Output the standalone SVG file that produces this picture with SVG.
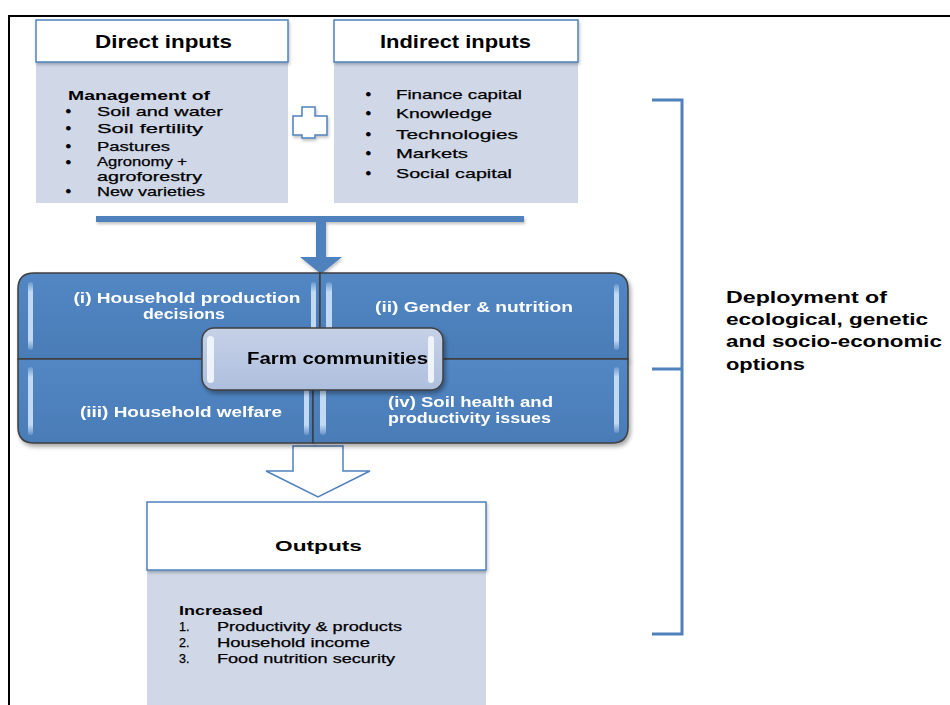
<svg xmlns="http://www.w3.org/2000/svg" width="950" height="705" viewBox="0 0 950 705">
  <defs>
    <style>
      .hdr { fill: #ffffff; stroke: #4F81BD; stroke-width: 1.5; }
      .body { fill: #D0D8E8; }
      .t { font-family: "Liberation Sans", Arial, sans-serif; fill: #000; }
      .r { stroke: #000; stroke-width: 0.25; }
      .b { font-weight: bold; }
      .w { fill: #ffffff; font-weight: bold; }
      .bul { stroke-width: 1; }
      .quad { fill: url(#quadFill); stroke: #3F3F3F; stroke-width: 1.5; }
      .strip { fill: url(#stripFill); }
      .blue { fill: #4F81BD; }
      .bracket { fill: none; stroke: #4F81BD; stroke-width: 3; }
    </style>
    <linearGradient id="quadFill" x1="0" y1="0" x2="0" y2="1">
      <stop offset="0" stop-color="#5287C4"/>
      <stop offset="1" stop-color="#4A7CB7"/>
    </linearGradient>
    <linearGradient id="stripFill" x1="0" y1="0" x2="0" y2="1">
      <stop offset="0" stop-color="#CFE3FA" stop-opacity="0.2"/>
      <stop offset="0.15" stop-color="#CFE3FA" stop-opacity="0.9"/>
      <stop offset="0.85" stop-color="#CFE3FA" stop-opacity="0.9"/>
      <stop offset="1" stop-color="#CFE3FA" stop-opacity="0.2"/>
    </linearGradient>
    <linearGradient id="hubFill" x1="0" y1="0" x2="0" y2="1">
      <stop offset="0" stop-color="#C6D1E7"/>
      <stop offset="1" stop-color="#AEBFDE"/>
    </linearGradient>
    <filter id="shadow" x="-10%" y="-10%" width="130%" height="140%">
      <feDropShadow dx="2" dy="3" stdDeviation="2" flood-color="#000" flood-opacity="0.35"/>
    </filter>
    <filter id="softShadow" x="-10%" y="-10%" width="130%" height="140%">
      <feDropShadow dx="1" dy="2" stdDeviation="1.5" flood-color="#000" flood-opacity="0.25"/>
    </filter>
  </defs>

  <rect x="0" y="0" width="950" height="705" fill="#ffffff"/>

  <!-- page frame -->
  <path d="M950,16 L9,16 L9,705" fill="none" stroke="#000" stroke-width="2"/>

  <!-- Direct inputs -->
  <g id="direct-inputs">
    <rect class="body" x="36" y="62" width="252" height="141"/>
    <rect class="hdr" x="36" y="20" width="252" height="42" filter="url(#softShadow)"/>
    <text class="t b" x="95" y="48" font-size="18" textLength="137" lengthAdjust="spacingAndGlyphs">Direct inputs</text>
    <text class="t b" x="68" y="100" font-size="13" textLength="142" lengthAdjust="spacingAndGlyphs">Management of</text>
    <g class="t r" font-size="13.5">
      <text class="bul" x="66" y="116">•</text>
      <text x="97" y="116" textLength="126" lengthAdjust="spacingAndGlyphs">Soil and water</text>
      <text class="bul" x="66" y="133">•</text>
      <text x="97" y="133" textLength="106" lengthAdjust="spacingAndGlyphs">Soil fertility</text>
      <text class="bul" x="66" y="151">•</text>
      <text x="97" y="151" textLength="73" lengthAdjust="spacingAndGlyphs">Pastures</text>
      <text class="bul" x="66" y="167">•</text>
      <text font-size="13"><tspan x="97" y="166" textLength="90" lengthAdjust="spacingAndGlyphs">Agronomy +</tspan><tspan x="97" y="181" textLength="105" lengthAdjust="spacingAndGlyphs">agroforestry</tspan></text>
      <text class="bul" x="66" y="196">•</text>
      <text x="97" y="196" textLength="108" lengthAdjust="spacingAndGlyphs">New varieties</text>
    </g>
  </g>

  <!-- plus sign between the inputs -->
  <g id="plus" filter="url(#softShadow)">
    <path d="M302,107 L315,107 L315,116 L327,116 L327,135 L315,135 L315,138 L302,138 L302,135 L293,135 L293,116 L302,116 Z" fill="#ffffff" stroke="#4F81BD" stroke-width="1.5"/>
  </g>

  <!-- Indirect inputs -->
  <g id="indirect-inputs">
    <rect class="body" x="334" y="62" width="244" height="141"/>
    <rect class="hdr" x="334" y="20" width="244" height="42" filter="url(#softShadow)"/>
    <text class="t b" x="380" y="48" font-size="18" textLength="151" lengthAdjust="spacingAndGlyphs">Indirect inputs</text>
    <g class="t r" font-size="13.5">
      <text class="bul" x="366" y="99">•</text>
      <text x="396" y="99" textLength="126" lengthAdjust="spacingAndGlyphs">Finance capital</text>
      <text class="bul" x="366" y="118">•</text>
      <text x="396" y="118" textLength="96" lengthAdjust="spacingAndGlyphs">Knowledge</text>
      <text class="bul" x="366" y="139">•</text>
      <text x="396" y="139" textLength="122" lengthAdjust="spacingAndGlyphs">Technologies</text>
      <text class="bul" x="366" y="158">•</text>
      <text x="396" y="158" textLength="72" lengthAdjust="spacingAndGlyphs">Markets</text>
      <text class="bul" x="366" y="178">•</text>
      <text x="396" y="178" textLength="116" lengthAdjust="spacingAndGlyphs">Social capital</text>
    </g>
  </g>

  <!-- connectors -->
  <g id="connectors">
    <path class="blue" d="M96,216 L524,216 L524,222 L326,222 L326,257 L342,257 L321,274 L300,257 L316,257 L316,222 L96,222 Z" filter="url(#softShadow)"/>
    <path d="M293,446 L343,446 L343,471 L370,471 L318,497 L266,471 L293,471 Z" fill="#ffffff" stroke="#4F81BD" stroke-width="1.5"/>
    <path class="bracket" d="M652,100 L682,100 L682,634 L652,634 M652,369 L682,369"/>
  </g>

  <!-- Farm communities matrix -->
  <g id="quad-1" filter="url(#shadow)">
    <path class="quad" d="M18,289 Q18,273 34,273 L320,273 L320,359 L18,359 Z"/>
    <rect class="strip" x="28" y="282" width="5" height="68" rx="2.5"/>
    <rect class="strip" x="311" y="282" width="5" height="68" rx="2.5"/>
    <text class="t w" font-size="14" text-anchor="middle"><tspan x="187" y="303" textLength="227" lengthAdjust="spacingAndGlyphs">(i) Household production</tspan><tspan x="184" y="319" textLength="82" lengthAdjust="spacingAndGlyphs">decisions</tspan></text>
  </g>
  <g id="quad-2" filter="url(#shadow)">
    <path class="quad" d="M320,273 L612,273 Q628,273 628,289 L628,359 L320,359 Z"/>
    <rect class="strip" x="326" y="282" width="6" height="68" rx="3"/>
    <rect class="strip" x="614" y="284" width="5" height="66" rx="2.5"/>
    <text class="t w" x="474" y="312" font-size="14" text-anchor="middle" textLength="198" lengthAdjust="spacingAndGlyphs">(ii) Gender &amp; nutrition</text>
  </g>
  <g id="quad-3" filter="url(#shadow)">
    <path class="quad" d="M18,359 L313,359 L313,443 L34,443 Q18,443 18,427 Z"/>
    <rect class="strip" x="28" y="367" width="5" height="68" rx="2.5"/>
    <rect class="strip" x="304" y="367" width="5" height="68" rx="2.5"/>
    <text class="t w" x="80" y="417" font-size="14" textLength="202" lengthAdjust="spacingAndGlyphs">(iii) Household welfare</text>
  </g>
  <g id="quad-4" filter="url(#shadow)">
    <path class="quad" d="M313,359 L628,359 L628,427 Q628,443 612,443 L313,443 Z"/>
    <rect class="strip" x="320" y="367" width="6" height="68" rx="3"/>
    <rect class="strip" x="614" y="367" width="5" height="66" rx="2.5"/>
    <text class="t w" font-size="14"><tspan x="388" y="407" textLength="165" lengthAdjust="spacingAndGlyphs">(iv) Soil health and</tspan><tspan x="388" y="423" textLength="163" lengthAdjust="spacingAndGlyphs">productivity issues</tspan></text>
  </g>
  <g id="farm-communities" filter="url(#shadow)">
    <rect x="202" y="328" width="241" height="62" rx="12" fill="url(#hubFill)" stroke="#3F3F3F" stroke-width="1.5"/>
    <rect x="207" y="336" width="7" height="47" rx="3.5" fill="#F4F7FC" opacity="0.9"/>
    <rect x="428" y="336" width="6" height="47" rx="3" fill="#F4F7FC" opacity="0.9"/>
    <text class="t b" x="247" y="364" font-size="16" textLength="181" lengthAdjust="spacingAndGlyphs">Farm communities</text>
  </g>

  <!-- Outputs -->
  <g id="outputs">
    <rect class="body" x="147" y="570" width="339" height="135"/>
    <rect class="hdr" x="147" y="502" width="339" height="68" filter="url(#softShadow)"/>
    <text class="t b" x="275" y="551" font-size="15.5" textLength="87" lengthAdjust="spacingAndGlyphs">Outputs</text>
    <text class="t b" x="179" y="615" font-size="12.5" textLength="84" lengthAdjust="spacingAndGlyphs">Increased</text>
    <g class="t r" font-size="12.5">
      <text x="179" y="631">1.</text>
      <text x="217" y="631" textLength="185" lengthAdjust="spacingAndGlyphs">Productivity &amp; products</text>
      <text x="179" y="647">2.</text>
      <text x="217" y="647" textLength="153" lengthAdjust="spacingAndGlyphs">Household income</text>
      <text x="179" y="663">3.</text>
      <text x="217" y="663" textLength="178" lengthAdjust="spacingAndGlyphs">Food nutrition security</text>
    </g>
  </g>

  <!-- Deployment label beside the bracket -->
  <g id="deployment">
    <text class="t b" font-size="16">
      <tspan x="726" y="303" textLength="161" lengthAdjust="spacingAndGlyphs">Deployment of</tspan>
      <tspan x="726" y="325" textLength="202" lengthAdjust="spacingAndGlyphs">ecological, genetic</tspan>
      <tspan x="726" y="347" textLength="216" lengthAdjust="spacingAndGlyphs">and socio-economic</tspan>
      <tspan x="726" y="370" textLength="79" lengthAdjust="spacingAndGlyphs">options</tspan>
    </text>
  </g>
</svg>
